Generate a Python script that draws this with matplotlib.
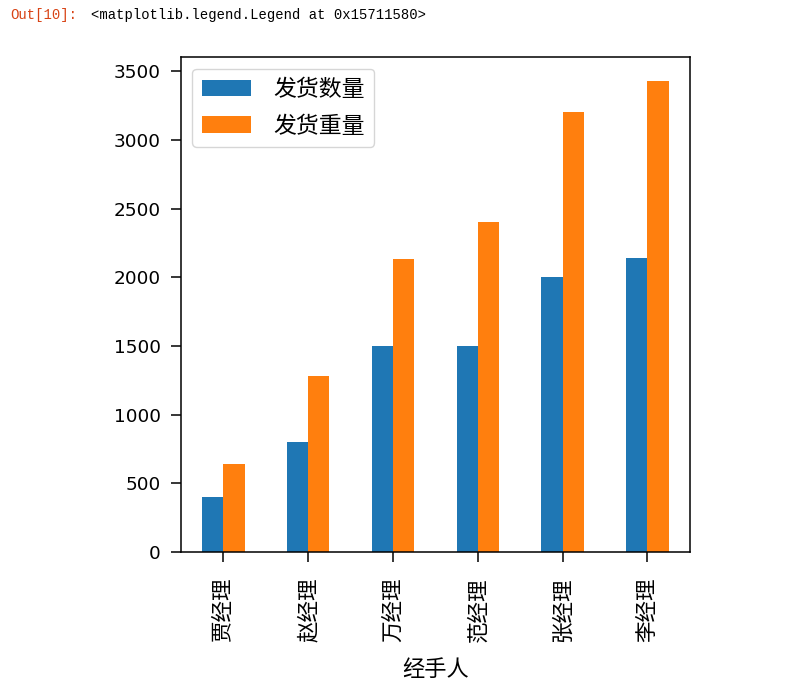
import matplotlib
matplotlib.use("Agg")
import matplotlib.pyplot as plt
import numpy as np

managers = ["贾经理", "赵经理", "万经理", "范经理", "张经理", "李经理"]
qty = [400, 800, 1500, 1500, 2000, 2140]
weight = [640, 1280, 2130, 2400, 3200, 3430]
series_names = ["发货数量", "发货重量"]
yticks = [0, 500, 1000, 1500, 2000, 2500, 3000, 3500]

plt.rcParams['font.family'] = ['DejaVu Sans', 'Noto Sans CJK SC']

fig = plt.figure(figsize=(7.92, 6.9), dpi=100)
ax = fig.add_axes([0.2285, 0.2, 0.6425, 0.717])

x = np.arange(len(managers))
w = 0.25
ax.bar(x - w/2, qty, width=w, color="#1f77b4", label=series_names[0])
ax.bar(x + w/2, weight, width=w, color="#ff7f0e", label=series_names[1])
ax.set_xlim(-0.5, len(managers) - 0.5)
ax.set_ylim(0, max(weight) * 1.05)
ax.set_yticks(yticks)
ax.set_xticks(x)
ax.set_xticklabels(managers, rotation=90, fontsize=15.5)
ax.tick_params(axis='y', labelsize=13.3, length=7.2, width=1.1, pad=7.5)
ax.tick_params(axis='x', length=7.2, width=1.1, pad=11.5)
ax.set_xlabel("经手人", fontsize=16, labelpad=12)
for s in ax.spines.values():
    s.set_linewidth(1.1)
ax.legend(loc="upper left", prop={'size': 16.5}, handlelength=2.15, handleheight=0.75,
          handletextpad=1.0, labelspacing=0.6)

fig.text(0.013, 0.978, "Out[10]:", color="#D84315", family="Liberation Mono", fontsize=10, va="center")
fig.text(0.115, 0.978, "<matplotlib.legend.Legend at 0x15711580>", color="black", family="Liberation Mono", fontsize=10, va="center")

fig.savefig("out.png", dpi=100)
